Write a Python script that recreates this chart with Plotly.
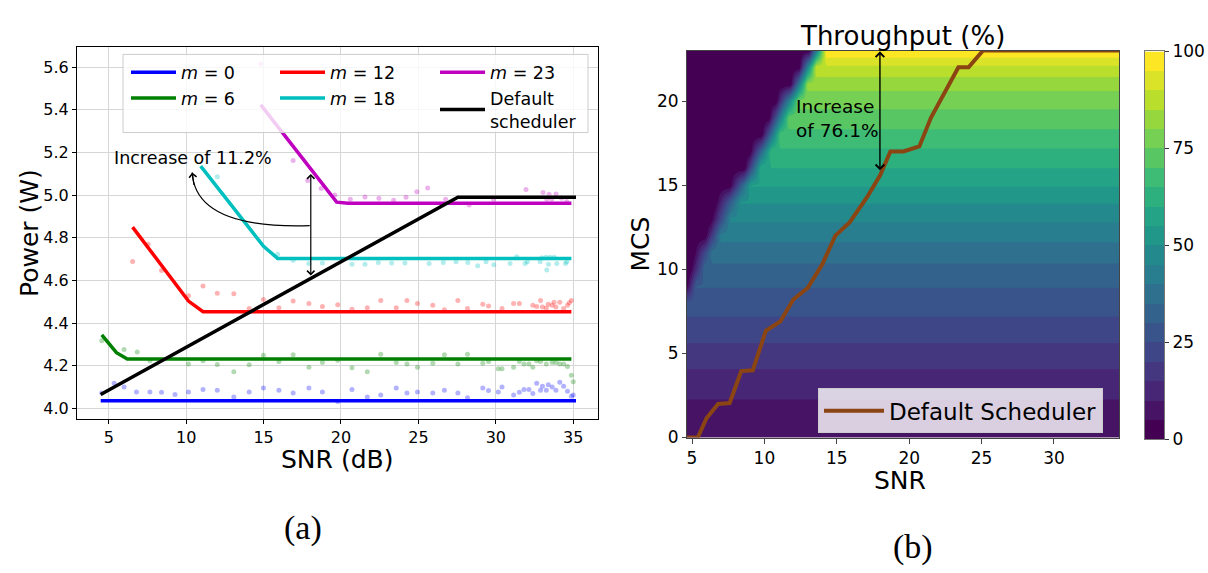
import numpy as np
import plotly.graph_objects as go

W, H = 1208, 573

# ---------------- Panel (a): Power vs SNR ----------------
snr_m0 = [4.55, 5.35, 5.99, 6.79, 7.66, 8.41, 9.28, 10.15, 11.09, 12.01, 13.08, 14.07, 14.99, 15.99, 16.91, 17.93,
          18.80, 19.79, 20.71, 21.70, 22.57, 23.57, 24.26, 24.94, 25.93, 26.68, 27.55, 28.17, 29.16, 29.53, 30.16,
          30.40, 31.15, 31.52, 31.82, 32.14, 32.39, 32.64, 32.89, 33.01, 33.26, 33.39, 33.64, 33.88, 34.13, 34.38,
          34.63, 34.88, 35.00]
pw_m0 = [4.072, 4.118, 4.100, 4.077, 4.077, 4.075, 4.065, 4.077, 4.088, 4.085, 4.053, 4.077, 4.095, 4.085, 4.072,
         4.095, 4.077, 4.032, 4.088, 4.053, 4.062, 4.095, 4.072, 4.077, 4.072, 4.085, 4.072, 4.050, 4.095, 4.083,
         4.077, 4.100, 4.062, 4.075, 4.088, 4.088, 4.069, 4.118, 4.085, 4.103, 4.085, 4.110, 4.100, 4.085, 4.122,
         4.103, 4.080, 4.057, 4.062]

snr_m6 = [4.55, 5.99, 6.84, 7.66, 10.15, 11.09, 12.01, 13.08, 14.07, 14.99, 15.99, 16.91, 17.93, 18.80, 19.79, 20.71,
          21.70, 22.57, 23.57, 24.26, 24.94, 25.93, 26.68, 27.55, 28.17, 29.16, 29.53, 30.16, 30.40, 31.15, 31.52,
          31.82, 32.14, 32.39, 32.64, 32.89, 33.26, 33.64, 33.88, 34.13, 34.38, 34.63, 34.88, 35.00]
pw_m6 = [4.317, 4.276, 4.264, 4.223, 4.208, 4.223, 4.205, 4.171, 4.204, 4.249, 4.220, 4.251, 4.193, 4.215, 4.226,
         4.190, 4.171, 4.254, 4.215, 4.208, 4.193, 4.211, 4.251, 4.208, 4.254, 4.211, 4.220, 4.185, 4.185, 4.193,
         4.220, 4.208, 4.208, 4.193, 4.223, 4.220, 4.208, 4.215, 4.215, 4.208, 4.208, 4.196, 4.155, 4.125]

snr_m12 = [6.54, 7.54, 8.41, 10.15, 11.09, 12.01, 13.08, 14.07, 14.99, 15.99, 16.91, 17.93, 18.80, 19.79, 20.71,
           21.70, 22.57, 23.57, 24.26, 24.94, 25.93, 26.68, 27.55, 28.17, 29.16, 29.53, 30.40, 31.15, 31.52, 32.39,
           32.64, 32.89, 33.01, 33.26, 33.39, 33.64, 33.76, 33.88, 34.13, 34.38, 34.63, 34.75, 34.88]
pw_m12 = [4.688, 4.770, 4.646, 4.528, 4.574, 4.540, 4.537, 4.468, 4.510, 4.472, 4.503, 4.492, 4.477, 4.486, 4.465,
          4.472, 4.506, 4.472, 4.506, 4.491, 4.483, 4.462, 4.506, 4.468, 4.488, 4.480, 4.468, 4.491, 4.491, 4.483,
          4.478, 4.506, 4.475, 4.470, 4.488, 4.483, 4.498, 4.475, 4.498, 4.468, 4.483, 4.495, 4.506]

snr_m18 = [11.02, 12.01, 15.91, 16.91, 17.93, 18.80, 20.71, 21.55, 22.41, 23.27, 24.13, 25.69, 26.61, 27.43, 28.19,
           28.83, 29.37, 29.87, 30.92, 31.35, 31.89, 32.04, 32.86, 32.97, 33.25, 33.29, 33.40, 33.51, 33.77, 33.94,
           34.50, 34.59]
pw_m18 = [5.430, 5.086, 4.722, 4.694, 4.679, 4.682, 4.676, 4.676, 4.684, 4.681, 4.681, 4.679, 4.684, 4.687, 4.684,
          4.669, 4.687, 4.673, 4.679, 4.711, 4.679, 4.687, 4.687, 4.706, 4.709, 4.649, 4.676, 4.709, 4.709, 4.679,
          4.679, 4.687]

snr_m23 = [14.82, 16.91, 17.85, 18.72, 19.60, 20.60, 21.55, 22.45, 23.40, 24.20, 24.90, 25.60, 26.76, 28.28, 29.85,
           31.95, 33.05, 33.29, 33.44, 33.61, 33.89, 34.25, 34.58]
pw_m23 = [5.615, 5.162, 5.068, 5.031, 5.000, 4.981, 4.991, 4.985, 4.976, 4.990, 5.016, 5.033, 4.981, 4.953, 4.981,
          5.026, 5.012, 4.981, 5.004, 4.981, 5.005, 4.985, 4.970]

fit_m0_x = [4.48, 35.18]
fit_m0_y = [4.035, 4.035]
fit_m6_x = [4.55, 5.50, 6.20, 34.88]
fit_m6_y = [4.344, 4.261, 4.231, 4.231]
fit_m12_x = [6.54, 10.15, 11.09, 34.88]
fit_m12_y = [4.850, 4.503, 4.453, 4.453]
fit_m18_x = [10.94, 15.00, 15.91, 34.88]
fit_m18_y = [5.136, 4.760, 4.703, 4.703]
fit_m23_x = [14.82, 19.72, 20.46, 34.88]
fit_m23_y = [5.423, 4.967, 4.962, 4.962]
default_x = [4.48, 27.55, 35.18]
default_y = [4.065, 4.990, 4.990]

power_ticks = [4.0, 4.2, 4.4, 4.6, 4.8, 5.0, 5.2, 5.4, 5.6]
snr_ticks_a = [5, 10, 15, 20, 25, 30, 35]

# ---------------- Panel (b): Throughput contour ----------------
mcs_rows = list(range(24))
# throughput (%) reached at high SNR for each MCS
tput_max = [6.0, 7.5, 9.3, 12.0, 14.8, 18.0, 21.3, 24.4, 27.4, 30.3, 33.7, 37.5, 41.7, 45.9, 50.5, 55.5, 60.0,
            64.2, 68.6, 72.9, 77.0, 82.0, 89.0, 99.5]
# SNR below which throughput is ~0, and SNR where the full value is reached
snr_dead_end = [3.0, 3.0, 3.0, 3.0, 3.0, 3.0, 3.0, 3.0, 3.0, 4.6, 4.85, 5.1, 5.9, 6.3, 6.6, 7.6, 8.6, 9.0, 9.8,
                10.3, 10.8, 11.8, 12.4, 13.1]
snr_full = [3.5, 3.5, 3.5, 3.5, 3.5, 3.5, 3.5, 3.5, 3.5, 5.3, 5.9, 6.4, 7.0, 7.7, 8.4, 9.1, 9.8, 10.5, 11.1, 11.7,
            12.4, 13.0, 13.6, 14.3]
snr_grid = np.round(np.arange(4.6, 34.65, 0.1), 3)

sched_snr = [4.66, 5.4, 6.0, 6.8, 7.6, 8.4, 9.2, 10.1, 11.1, 12.0, 13.0, 14.0, 14.9, 15.9, 17.1, 18.0, 18.7, 19.6,
             20.7, 21.5, 23.4, 24.1, 25.1, 34.5]
sched_mcs = [0, 0, 1.15, 2.0, 2.05, 3.95, 4.0, 6.35, 6.9, 8.2, 8.9, 10.3, 12.0, 12.8, 14.3, 15.6, 17.0, 17.0, 17.3,
             19.0, 22.0, 22.0, 23.0, 23.0]

cbar_levels = [0, 5, 10, 15, 20, 25, 30, 35, 40, 45, 50, 55, 60, 65, 70, 75, 80, 85, 90, 95, 100]
cbar_ticks = [0, 25, 50, 75, 100]
snr_ticks_b = [5, 10, 15, 20, 25, 30]
mcs_ticks = [0, 5, 10, 15, 20]

z_tput = []
for m in mcs_rows:
    frac = np.interp(snr_grid, [snr_dead_end[m], snr_full[m]], [0.0, 1.0])
    z_tput.append((tput_max[m] * frac).tolist())

n_bands = len(cbar_levels) - 1
cbar_z = [[i] for i in range(n_bands)]


# ---------------- Figure ----------------
def px(x):
    return x / W


def py(y):
    return 1 - y / H


FONT = "DejaVu Sans"
fig = go.Figure()

# contour (b)
fig.add_trace(go.Contour(
    x=snr_grid, y=mcs_rows, z=z_tput, xaxis="x2", yaxis="y2",
    colorscale="Viridis", autocontour=False,
    contours=dict(start=cbar_levels[1], end=cbar_levels[-2], size=cbar_levels[1] - cbar_levels[0],
                  coloring="fill", showlines=False),
    line=dict(width=0), showscale=False, hoverinfo="skip",
))
# discrete colour bar drawn as its own heatmap
fig.add_trace(go.Heatmap(x=[0, 1], y=cbar_levels, z=cbar_z, xaxis="x3", yaxis="y3",
                         colorscale="Viridis", zmin=0, zmax=n_bands - 1, showscale=False,
                         hoverinfo="skip", ygap=0))
fig.add_trace(go.Scatter(x=sched_snr, y=sched_mcs, xaxis="x2", yaxis="y2", mode="lines",
                         line=dict(color="#8b4513", width=4), name="Default Scheduler",
                         legend="legend4"))

# scatter points (a)
pts = [(snr_m0, pw_m0, "#0000ff"), (snr_m6, pw_m6, "#008000"), (snr_m12, pw_m12, "#ff0000"),
       (snr_m18, pw_m18, "#00bfbf"), (snr_m23, pw_m23, "#bf00bf")]
for xs, ys, c in pts:
    fig.add_trace(go.Scatter(x=xs, y=ys, mode="markers", xaxis="x", yaxis="y",
                             marker=dict(color=c, size=5, opacity=0.3), showlegend=False,
                             hoverinfo="skip"))

fits = [(fit_m0_x, fit_m0_y, "#0000ff", "<i>m</i> = 0", "legend"),
        (fit_m6_x, fit_m6_y, "#008000", "<i>m</i> = 6", "legend"),
        (fit_m12_x, fit_m12_y, "#ff0000", "<i>m</i> = 12", "legend2"),
        (fit_m18_x, fit_m18_y, "#00bfbf", "<i>m</i> = 18", "legend2"),
        (fit_m23_x, fit_m23_y, "#bf00bf", "<i>m</i> = 23", "legend3"),
        (default_x, default_y, "#000000", "Default<br>scheduler", "legend3")]
for xs, ys, c, name, lg in fits:
    fig.add_trace(go.Scatter(x=xs, y=ys, mode="lines", xaxis="x", yaxis="y",
                             line=dict(color=c, width=3.5), name=name, legend=lg))

axis_common = dict(showline=True, mirror=True, ticks="outside", ticklen=4, zeroline=False,
                   tickfont=dict(size=16, family=FONT, color="black"))

leg_common = dict(xanchor="left", yanchor="top", bgcolor="rgba(0,0,0,0)", borderwidth=0,
                  font=dict(size=17.5, family=FONT, color="black"), tracegroupgap=0, itemwidth=45)

fig.update_layout(
    width=W, height=H, margin=dict(l=0, r=0, t=0, b=0),
    paper_bgcolor="white", plot_bgcolor="white",
    font=dict(family=FONT, color="black"),
    xaxis=dict(domain=[px(77), px(598)], range=[2.95, 36.6], tickvals=snr_ticks_a, anchor="y",
               showgrid=True, gridcolor="#d6d6d6", gridwidth=1, linecolor="black", tickcolor="black",
               **axis_common),
    yaxis=dict(domain=[py(424), py(38)], range=[3.949, 5.696], tickvals=power_ticks,
               ticktext=["%.1f" % v for v in power_ticks], anchor="x",
               showgrid=True, gridcolor="#d6d6d6", gridwidth=1, linecolor="black", tickcolor="black",
               **axis_common),
    xaxis2=dict(domain=[px(687), px(1119)], range=[4.655, 34.49], tickvals=snr_ticks_b, anchor="y2",
                showgrid=False, linecolor="#444", tickcolor="#444", **dict(axis_common, ticklen=5,
                tickfont=dict(size=17, family=FONT, color="black"))),
    yaxis2=dict(domain=[py(443), py(42)], range=[0, 23], tickvals=mcs_ticks, anchor="x2",
                showgrid=False, linecolor="#444", tickcolor="#444", **dict(axis_common,
                tickfont=dict(size=17, family=FONT, color="black"))),
    xaxis3=dict(domain=[px(1145), px(1164)], range=[0, 1], anchor="y3", showticklabels=False,
                ticks="", showgrid=False, zeroline=False, showline=True, mirror=True, linecolor="#777",
                fixedrange=True),
    yaxis3=dict(domain=[py(445), py(43)], range=[0, 100], anchor="x3", side="right",
                tickvals=cbar_ticks, ticks="outside", ticklen=4, tickcolor="#333", showgrid=False,
                zeroline=False, showline=True, mirror=True, linecolor="#777",
                tickfont=dict(size=17, family=FONT, color="black"), fixedrange=True),
    legend=dict(x=px(126), y=py(46), **leg_common),
    legend2=dict(x=px(275), y=py(46), **leg_common),
    legend3=dict(x=px(435), y=py(46), **leg_common),
    legend4=dict(x=px(818), y=py(392), xanchor="left", yanchor="top", itemwidth=60,
                 bgcolor="rgba(255,255,255,0.8)", bordercolor="#cccccc", borderwidth=1,
                 font=dict(size=23, family=FONT, color="black")),
)

# legend frame for panel (a)
fig.add_shape(type="rect", xref="paper", yref="paper", x0=px(123), x1=px(588), y0=py(127), y1=py(46),
              fillcolor="rgba(255,255,255,0.8)", line=dict(color="#cccccc", width=1), layer="above")

# curved arrow in (a)
fig.add_shape(type="path", xref="x", yref="y", path="M 17.98,4.857 Q 10.6,4.84 10.39,5.106",
              line=dict(color="black", width=1.2))

ann = []
ann.append(dict(x=10.39, y=5.106, xref="x", yref="y", ax=2, ay=14, text="", showarrow=True,
                arrowhead=4, arrowsize=1.2, arrowwidth=1.2, arrowcolor="black"))
ann.append(dict(x=18.05, y=5.099, ax=18.05, ay=4.616, xref="x", yref="y", axref="x", ayref="y",
                text="", showarrow=True, arrowhead=4, arrowside="end+start", arrowsize=1.2,
                arrowwidth=1.2, arrowcolor="black"))
ann.append(dict(x=10.43, y=5.176, xref="x", yref="y", text="Increase of 11.2%", showarrow=False,
                xanchor="center", yanchor="middle",
                font=dict(size=17.5, family=FONT, color="black")))
# (b) annotations
ann.append(dict(x=17.98, y=22.95, ax=17.98, ay=15.8, xref="x2", yref="y2", axref="x2", ayref="y2",
                text="", showarrow=True, arrowhead=4, arrowside="end+start", arrowsize=1.2,
                arrowwidth=1.4, arrowcolor="black"))
ann.append(dict(x=12.04, y=18.94, xref="x2", yref="y2", xanchor="left", yanchor="middle", align="left",
                text="Increase<br>of 76.1%", showarrow=False,
                font=dict(size=18.5, family=FONT, color="black")))


def label(x, y, text, size, angle=0, family=FONT):
    return dict(x=px(x), y=py(y), xref="paper", yref="paper", text=text, textangle=angle,
                xanchor="center", yanchor="middle", showarrow=False,
                font=dict(size=size, family=family, color="black"))


ann.append(label(30, 231, "Power (W)", 25, -90))
ann.append(label(337, 466, "SNR (dB)", 25))
ann.append(label(641, 243, "MCS", 25, -90))
ann.append(label(900, 487, "SNR", 25))
ann.append(label(902, 27, "Throughput (%)", 26))
ann.append(label(303, 537, "(a)", 34, family="Liberation Serif"))
ann.append(label(913, 556, "(b)", 34, family="Liberation Serif"))
fig.update_layout(annotations=ann)

fig.write_html("out.html")
